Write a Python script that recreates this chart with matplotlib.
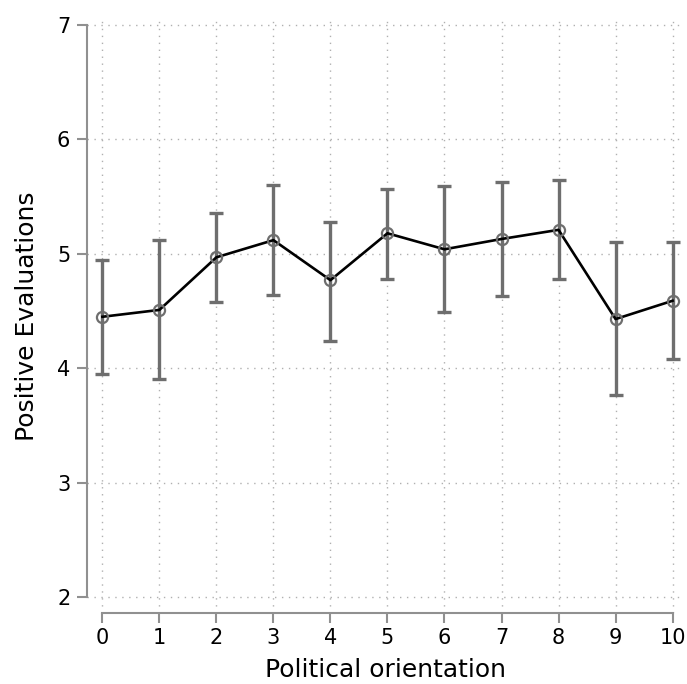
import numpy as np
import matplotlib.pyplot as plt

# Mean positive evaluations by political orientation, with interval bounds
orientation = np.arange(0, 11)
mean_eval = np.array([4.45, 4.51, 4.97, 5.12, 4.77, 5.18, 5.04, 5.13, 5.21, 4.43, 4.59])
upper = np.array([4.95, 5.12, 5.36, 5.60, 5.28, 5.57, 5.59, 5.63, 5.65, 5.10, 5.10])
lower = np.array([3.95, 3.91, 4.58, 4.64, 4.24, 4.78, 4.49, 4.63, 4.78, 3.77, 4.08])

yerr = np.vstack([mean_eval - lower, upper - mean_eval])

fig = plt.figure(figsize=(6.87, 6.84), dpi=100)
ax = fig.add_axes([0.1266, 0.1038, 0.869, 0.8670])

ax.errorbar(orientation, mean_eval, yerr=yerr, fmt="none", ecolor="#6e6e6e",
            elinewidth=2.4, capsize=5, capthick=2.4, zorder=2)
ax.plot(orientation, mean_eval, color="black", lw=1.9, zorder=3)
ax.plot(orientation, mean_eval, "o", ms=8, mfc="none", mec="#6e6e6e", mew=1.6, zorder=4)

ax.set_xlim(-0.27, 10.2)
ax.set_ylim(1.86, 7.045)
ax.set_xticks(orientation)
ax.set_yticks([2, 3, 4, 5, 6, 7])

for side in ["top", "right"]:
    ax.spines[side].set_visible(False)
ax.spines["left"].set_bounds(2, 7)
ax.spines["bottom"].set_bounds(0, 10)
for side in ["left", "bottom"]:
    ax.spines[side].set_color("#909090")
    ax.spines[side].set_linewidth(1.5)

ax.tick_params(axis="both", colors="#909090", labelcolor="black", labelsize=15,
               length=7, width=1.5, direction="out")
ax.tick_params(axis="y", pad=5)
ax.tick_params(axis="x", pad=4)

ax.grid(True, linestyle=(0, (1, 4)), color="#b0b0b0", linewidth=1.0)
ax.set_axisbelow(True)

ax.set_xlabel("Political orientation", fontsize=18, labelpad=7)
ax.set_ylabel("Positive Evaluations", fontsize=18, labelpad=13)

fig.savefig("out.png", dpi=100)
